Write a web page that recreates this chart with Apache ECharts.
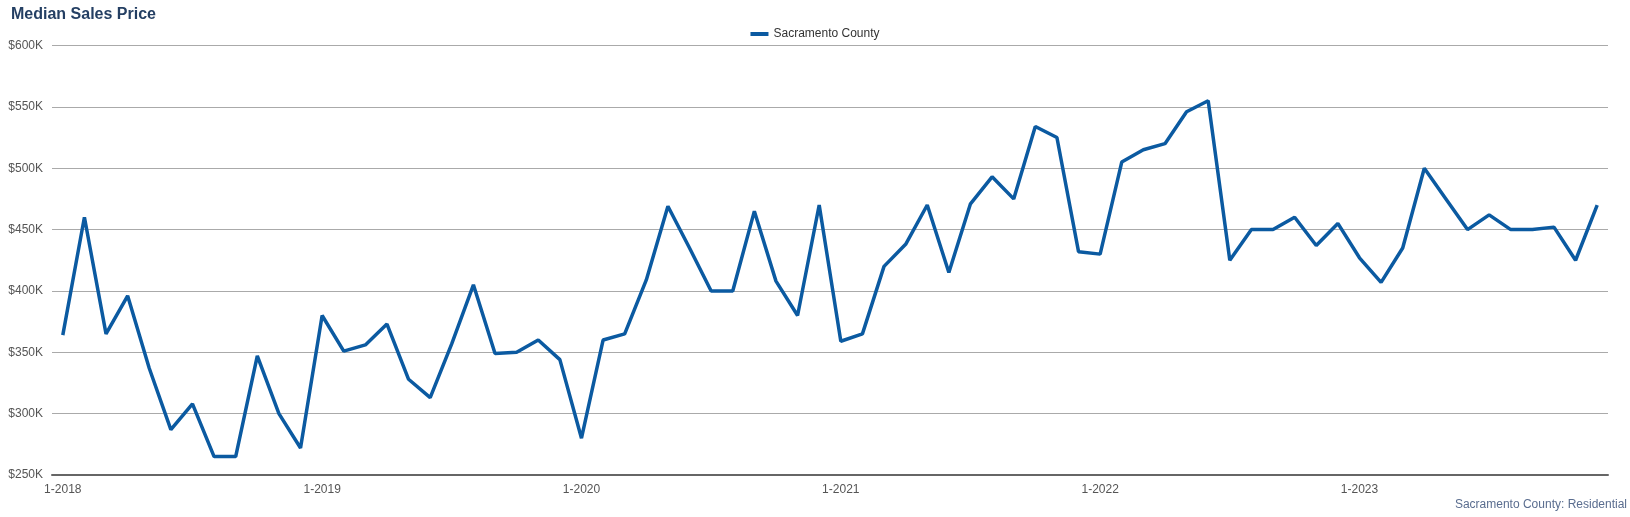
<!DOCTYPE html>
<html>
<head>
<meta charset="utf-8">
<script src="https://cdn.jsdelivr.net/npm/echarts@6/dist/echarts.min.js"></script>
<style>
html,body{margin:0;padding:0;background:#fff;}
#chart{width:1630px;height:517px;}
</style>
</head>
<body>
<div id="chart"></div>
<script>
var years = [2018, 2019, 2020, 2021, 2022, 2023];
var seriesName = 'Sacramento County';
var sourceText = 'Sacramento County: Residential';
var titleText = 'Median Sales Price';
var yTicks = [250000, 300000, 350000, 400000, 450000, 500000, 550000, 600000];

var price2018 = [364000, 460000, 365000, 396000, 337000, 287000, 308000, 265000, 265000, 347000, 300000, 272000];
var price2019 = [380000, 351000, 356000, 373000, 328000, 313000, 357000, 405000, 349000, 350000, 360000, 344000];
var price2020 = [280000, 360000, 365000, 409000, 469000, 435000, 400000, 400000, 465000, 408000, 380000, 470000];
var price2021 = [359000, 365000, 420000, 438000, 470000, 415000, 471000, 493000, 475000, 534000, 525000, 432000];
var price2022 = [430000, 505000, 515000, 520000, 546000, 555000, 425000, 450000, 450000, 460000, 437000, 455000];
var price2023 = [427000, 407000, 435000, 500000, 475000, 450000, 462000, 450000, 450000, 452000, 425000, 470000];

var categories = [];
years.forEach(function (y) {
  for (var m = 1; m <= 12; m++) categories.push(m + '-' + y);
});
var values = [].concat(price2018, price2019, price2020, price2021, price2022, price2023);

var font = "'Liberation Sans', Arial, sans-serif";
var chart = echarts.init(document.getElementById('chart'), null, {renderer: 'canvas'});
chart.setOption({
  animation: false,
  textStyle: {fontFamily: font},
  title: {
    text: titleText,
    left: 6, top: 2,
    textStyle: {fontSize: 16, fontWeight: 'bold', color: '#243f63', fontFamily: font}
  },
  legend: {
    data: [seriesName],
    left: 'center', top: 23,
    icon: 'rect', itemWidth: 18, itemHeight: 4, itemGap: 8,
    textStyle: {fontSize: 12, color: '#333', fontFamily: font}
  },
  grid: {left: 52, right: 22, top: 45.5, bottom: 42, containLabel: false},
  xAxis: {
    type: 'category',
    data: categories,
    boundaryGap: true,
    axisLine: {lineStyle: {color: '#666', width: 2}},
    axisTick: {alignWithLabel: true, interval: 11, length: 5, lineStyle: {color: '#666', width: 2}},
    axisLabel: {interval: 11, color: '#555', fontSize: 12, margin: 9, fontFamily: font},
    splitLine: {show: false}
  },
  yAxis: {
    type: 'value',
    min: yTicks[0], max: yTicks[yTicks.length - 1], interval: 50000,
    axisLine: {show: false},
    axisTick: {show: false},
    axisLabel: {
      color: '#555', fontSize: 12, margin: 9, fontFamily: font,
      formatter: function (v) { return '$' + (v / 1000) + 'K'; }
    },
    splitLine: {lineStyle: {color: '#aaa', width: 1}}
  },
  graphic: [{
    type: 'text', right: 3, bottom: 6,
    style: {text: sourceText, fill: '#5a6d8f', fontSize: 12, fontFamily: font}
  }],
  series: [{
    name: seriesName,
    type: 'line',
    data: values,
    showSymbol: false,
    symbol: 'none',
    lineStyle: {color: '#0b5aa1', width: 3.5},
    itemStyle: {color: '#0b5aa1'}
  }]
});
</script>
</body>
</html>
